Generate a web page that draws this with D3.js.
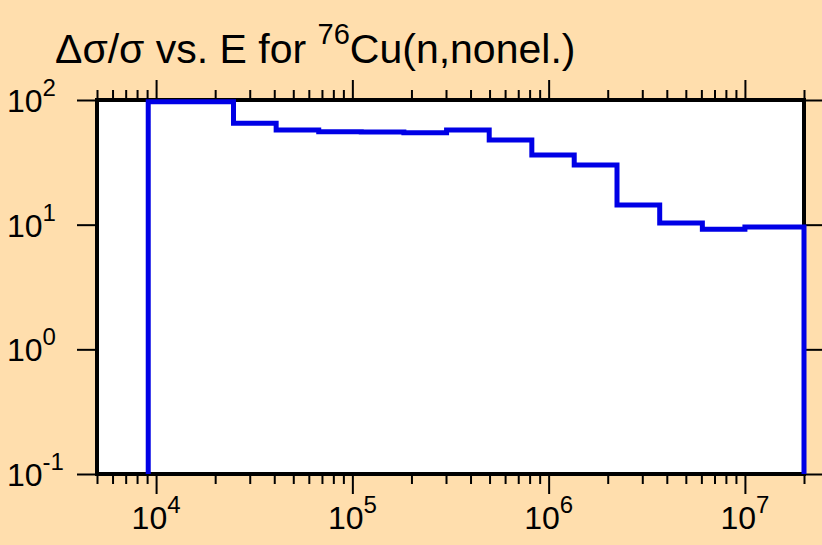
<!DOCTYPE html>
<html>
<head>
<meta charset="utf-8">
<script src="https://cdn.jsdelivr.net/npm/d3@7"></script>
<style>
  body { margin: 0; background: #ffdead; }
  svg { display: block; font-family: "Liberation Sans", Arial, sans-serif; }
</style>
</head>
<body>
<div class="graph"></div>
<script>
// group boundaries (eV) and relative uncertainty (%) per group
const energyEdges = [9.12e3, 2.48e4, 4.09e4, 6.74e4, 1.11e5, 1.83e5, 3.02e5, 4.98e5,
                     8.21e5, 1.35e6, 2.23e6, 3.68e6, 6.07e6, 1.0e7, 2.0e7];
const relUnc = [97, 65.0, 57.4, 55.7, 55.4, 54.7, 57.4, 47.8, 36.2, 30.1, 14.4, 10.3, 9.2, 9.6];

const xMajor = [1e4, 1e5, 1e6, 1e7];
const xMajorExp = ["4", "5", "6", "7"];
const yMajor = [0.1, 1, 10, 100];
const yMajorExp = ["-1", "0", "1", "2"];

const xDomain = [5e3, 2e7];
const yDomain = [0.1, 100];

let width = 822, height = 545;
let margin = {top: 100, right: 18, bottom: 71, left: 97};

let svg = d3.select(".graph").append("svg")
    .attr("width", width)
    .attr("height", height);

svg.append("rect")
    .attr("width", width).attr("height", height)
    .attr("fill", "#ffdead");

let x = d3.scaleLog().domain(xDomain).range([margin.left, width - margin.right]);
let y = d3.scaleLog().domain(yDomain).range([height - margin.bottom, margin.top]);

// minor ticks 2..9 x 10^k inside the domain
let xMinor = [];
for (let k = 3; k <= 7; k++) {
    for (let m = 2; m <= 9; m++) {
        let v = m * Math.pow(10, k);
        if (v >= xDomain[0] && v <= xDomain[1]) xMinor.push(v);
    }
}

// plot area
svg.append("rect")
    .attr("x", x.range()[0]).attr("y", y.range()[1])
    .attr("width", x.range()[1] - x.range()[0])
    .attr("height", y.range()[0] - y.range()[1])
    .attr("fill", "white");

function addAxis(axis, tx, ty) {
    let g = svg.append("g")
        .attr("transform", "translate(" + tx + "," + ty + ")")
        .call(axis);
    g.select(".domain").remove();
    g.selectAll("line").attr("stroke", "black").style("stroke-width", "2px");
    g.selectAll("text").remove();
    return g;
}

let yb = y.range()[0], yt = y.range()[1];
let xl = x.range()[0], xr = x.range()[1];

addAxis(d3.axisBottom(x).tickValues(xMajor).tickSize(20), 0, yb);
addAxis(d3.axisBottom(x).tickValues(xMinor).tickSize(10), 0, yb);
addAxis(d3.axisTop(x).tickValues(xMajor).tickSize(20), 0, yt);
addAxis(d3.axisTop(x).tickValues(xMinor).tickSize(10), 0, yt);
addAxis(d3.axisLeft(y).tickValues(yMajor).tickSize(20), xl, 0);
addAxis(d3.axisRight(y).tickValues(yMajor).tickSize(20), xr, 0);

// frame
svg.append("rect")
    .attr("x", xl).attr("y", yt)
    .attr("width", xr - xl).attr("height", yb - yt)
    .attr("fill", "none")
    .attr("stroke", "black")
    .style("stroke-width", "4px");

// step curve
let pts = [[energyEdges[0], yDomain[0]]];
relUnc.forEach(function (v, i) {
    pts.push([energyEdges[i], v]);
    pts.push([energyEdges[i + 1], v]);
});
pts.push([energyEdges[energyEdges.length - 1], yDomain[0]]);

svg.append("path")
    .datum(pts)
    .attr("d", d3.line().x(d => x(d[0])).y(d => y(d[1])))
    .attr("fill", "none")
    .attr("stroke", "#0000e6")
    .attr("stroke-linejoin", "miter")
    .style("stroke-width", "5px");

// tick labels
svg.selectAll(".xlab")
    .data(xMajor)
    .enter().append("text")
    .attr("class", "xlab")
    .attr("x", d => x(d))
    .attr("y", yb + 55)
    .attr("text-anchor", "middle")
    .style("font-size", "32px")
    .each(function (d, i) {
        let t = d3.select(this);
        t.append("tspan").text("10");
        t.append("tspan").attr("dy", -16).style("font-size", "24px").text(xMajorExp[i]);
    });

svg.selectAll(".ylab")
    .data(yMajor)
    .enter().append("text")
    .attr("class", "ylab")
    .attr("x", 7)
    .attr("y", d => y(d) + 12)
    .style("font-size", "32px")
    .each(function (d, i) {
        let t = d3.select(this);
        t.append("tspan").text("10");
        t.append("tspan").attr("dy", -16).style("font-size", "24px").text(yMajorExp[i]);
    });

// title
let title = svg.append("text")
    .attr("x", 55)
    .attr("y", 63)
    .style("font-size", "41px");
title.append("tspan").text("\u0394\u03c3/\u03c3 vs. E for ");
title.append("tspan").attr("dy", -19).style("font-size", "29px").text("76");
title.append("tspan").attr("dy", 19).text("Cu(n,nonel.)");
</script>
</body>
</html>
